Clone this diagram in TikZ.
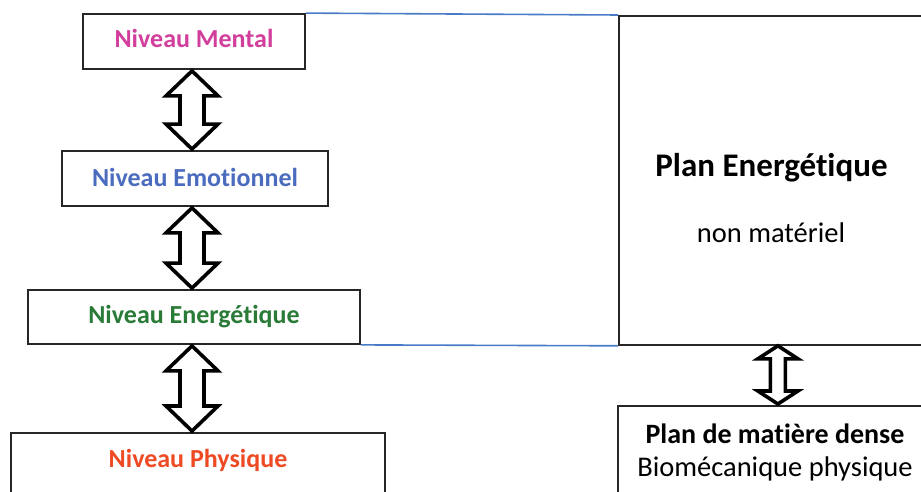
\documentclass[tikz,border=0pt]{standalone}
\usepackage{fontspec}
\setmainfont[Ligatures=NoCommon]{Carlito}
\usetikzlibrary{calc}
\definecolor{cMent}{HTML}{D23E9C}
\definecolor{cEmo}{HTML}{4A6BBE}
\definecolor{cEne}{HTML}{2A7A38}
\definecolor{cPhy}{HTML}{EE4A24}
\definecolor{cLink}{HTML}{4A7BC8}
\tikzset{
  box/.style={draw=black!85, line width=1.8pt, fill=white, inner sep=0pt},
  lbl/.style={font=\bfseries\fontsize{26}{30}\selectfont, inner sep=0pt, anchor=base},
  txt/.style={inner sep=0pt, anchor=base},
  fatarrow/.style={draw=black, line width=3.6pt, fill=white, line join=miter},
  link/.style={draw=cLink, line width=1.6pt}
}
\newcommand{\dblarrow}[5]{%
  \path[fatarrow] let \p1=(#1), \p2=(#2) in
    (\x1,\y1) -- (\x1+#3pt,\y1-#4pt) -- (\x1+#5pt,\y1-#4pt) -- (\x1+#5pt,\y2+#4pt)
    -- (\x1+#3pt,\y2+#4pt) -- (\x1,\y2) -- (\x1-#3pt,\y2+#4pt) -- (\x1-#5pt,\y2+#4pt)
    -- (\x1-#5pt,\y1-#4pt) -- (\x1-#3pt,\y1-#4pt) -- cycle;}
\begin{document}
\begin{tikzpicture}[x=1pt,y=-1pt]
\clip (0,0) rectangle (921,492);
\fill[white] (0,0) rectangle (921,492);
% left boxes
\node[box, minimum width=222pt, minimum height=55pt] (ment) at (194,41.5) {};
\node[lbl, text=cMent] (mentT) at (194,48) {Niveau Mental};
\node[box, minimum width=266pt, minimum height=55pt] (emo) at (195,178.5) {};
\node[lbl, text=cEmo] (emoT) at (195,186) {Niveau Emotionnel};
\node[box, minimum width=332pt, minimum height=54pt] (ene) at (194,317) {};
\node[lbl, text=cEne] (eneT) at (194,323.5) {Niveau Energétique};
\node[box, minimum width=374pt, minimum height=90pt, anchor=north] (phy) at (198,432) {};
\node[lbl, text=cPhy] (phyT) at (198,467) {Niveau Physique};
% right boxes
\node[box, minimum width=306pt, minimum height=329pt, anchor=north west] (plan) at (618,15) {};
\node[txt, font=\bfseries\fontsize{33}{38}\selectfont] (planT) at (771.5,176) {Plan Energétique};
\node[txt, font=\fontsize{28.5}{33}\selectfont] (planS) at (771,242) {non matériel};
\node[box, minimum width=307pt, minimum height=110pt, anchor=north west] (dense) at (617,405) {};
\node[txt, font=\bfseries\fontsize{28}{32}\selectfont] (denseT) at (775,443) {Plan de matière dense};
\node[txt, font=\fontsize{28.5}{33}\selectfont] (denseS) at (775,476) {Biomécanique physique};
% links
\draw[link] (ment.north east) -- (plan.north west);
\draw[link] (ene.south east) -- (plan.south west);
% arrows
\dblarrow{$(ment.south)+(-2,1)$}{$(emo.north)+(-2,-1)$}{26}{25}{12}
\dblarrow{$(emo.south)+(-3,1)$}{$(ene.north)+(-3,-1)$}{26}{25}{12}
\dblarrow{$(ene.south)+(-2,1)$}{$(phy.north)+(-2,-1)$}{26}{25}{12}
\dblarrow{$(plan.south)+(6,0)$}{$(dense.north)+(6,-1)$}{20}{13}{7.5}
\end{tikzpicture}
\end{document}
